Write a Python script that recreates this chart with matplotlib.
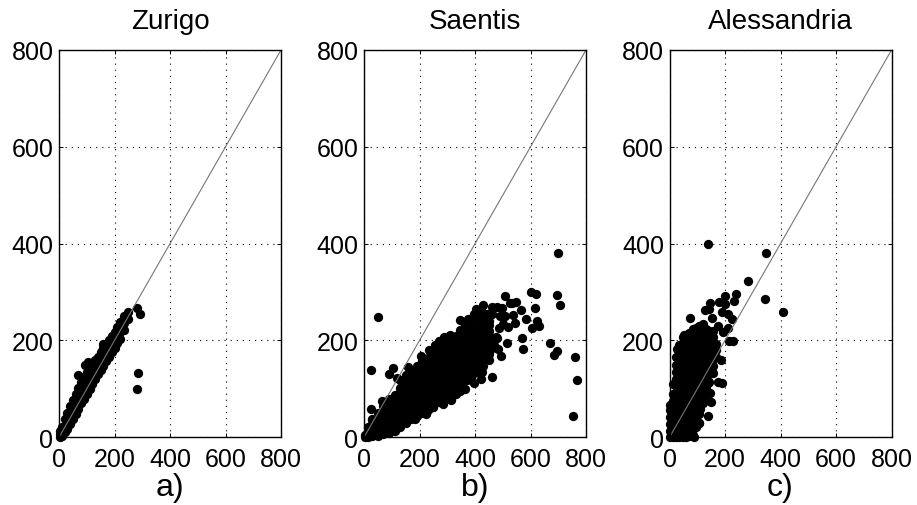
import matplotlib
matplotlib.use("Agg")
import matplotlib.pyplot as plt

plt.rcParams['font.family'] = ['Liberation Sans', 'DejaVu Sans']

titles = ['Zurigo', 'Saentis', 'Alessandria']
panel_labels = ['a)', 'b)', 'c)']
ticks = [0, 200, 400, 600, 800]

# cloud points, grouped as x value -> y values
zurigo_cols_x = [3, 10, 20, 30, 40, 50, 60, 70, 80, 90, 100, 110, 120, 130, 140, 150, 160, 170, 180, 190, 200, 210, 220, 235]
zurigo_cols_y = [[0, 6, 12], [2, 12, 22], [10, 24, 38], [18, 34, 50], [28, 44, 64], [38, 54, 78], [48, 66, 90], [58, 76, 102],
                 [70, 88, 114], [80, 98, 124], [90, 108, 134], [100, 120, 144], [110, 130, 152], [120, 140, 160],
                 [130, 148, 166], [140, 156, 176], [148, 164, 184], [158, 172, 192], [166, 182, 200], [176, 192, 210],
                 [184, 200, 218], [194, 208, 228], [204, 218, 238], [222, 236, 250]]
zurigo_extra_x = [69, 95, 105, 158, 248, 280, 292, 284, 282, 250]
zurigo_extra_y = [128, 150, 155, 192, 258, 268, 254, 133, 100, 245]

saentis_cols_x = [3, 15, 30, 50, 70, 90, 110, 130, 150, 170, 190, 210, 230, 250, 270, 290, 310, 330, 350, 370, 390, 410, 430, 450]
saentis_cols_y = [[0, 5], [1, 10, 22], [2, 12, 24, 36], [3, 14, 26, 38, 50], [6, 18, 30, 42, 55, 64], [9, 22, 34, 46, 58, 70, 80],
                  [14, 28, 40, 52, 64, 76, 88], [22, 34, 46, 58, 70, 82, 94, 102], [30, 42, 54, 66, 78, 90, 102, 114],
                  [38, 50, 62, 74, 86, 98, 110, 122, 130], [44, 54, 66, 78, 90, 102, 114, 126, 138, 148],
                  [50, 62, 74, 86, 98, 110, 122, 134, 146, 158], [56, 68, 80, 92, 104, 116, 128, 140, 152, 164],
                  [62, 74, 86, 98, 110, 122, 134, 146, 158, 170, 180], [72, 84, 96, 108, 120, 132, 144, 156, 168, 180, 190],
                  [80, 92, 104, 116, 128, 140, 152, 164, 176, 188, 200], [88, 100, 112, 124, 136, 148, 160, 172, 184, 196, 206],
                  [104, 116, 128, 140, 152, 164, 176, 188, 200, 210], [112, 124, 136, 148, 160, 172, 184, 196, 208, 222],
                  [118, 130, 142, 154, 166, 178, 190, 202, 214, 232], [128, 140, 152, 164, 176, 188, 200, 212, 224, 240],
                  [135, 148, 160, 172, 184, 196, 208, 220, 232, 250], [148, 160, 172, 184, 196, 208, 220, 232, 244, 255],
                  [160, 172, 184, 196, 208, 220, 232, 240]]
saentis_extra_x = [24, 49, 91, 106, 157, 118, 64, 24, 28, 698, 600, 619, 697, 708, 509, 546, 526, 618, 565, 583, 430, 404, 347, 463,
                   478, 497, 622, 629, 607, 568, 574, 517, 494, 463, 420, 385, 672, 694, 685, 760, 769, 754, 330, 312, 304, 346,
                   508, 538, 520, 545, 502, 474, 484, 448, 430, 535, 490, 365, 320,
                   185, 225, 250, 285, 315, 345, 365, 395, 425, 130, 150, 175, 205, 235, 255, 270, 290, 310, 345, 375, 395, 420,
                   445, 460, 455, 470, 480, 485]
saentis_extra_y = [139, 249, 130, 144, 146, 122, 76, 58, 38, 381, 300, 296, 293, 273, 291, 280, 277, 267, 263, 245, 274, 265, 243, 270,
                   269, 267, 240, 230, 225, 205, 183, 194, 168, 125, 120, 120, 194, 178, 171, 166, 119, 43, 89, 78, 93, 110,
                   250, 252, 227, 237, 234, 207, 182, 165, 161, 278, 250, 235, 207,
                   38, 48, 62, 68, 80, 95, 100, 112, 135, 118, 128, 140, 168, 180, 190, 198, 208, 212, 222, 245, 255, 262,
                   255, 255, 180, 190, 205, 225]

alessandria_cols_x = [3, 12, 24, 36, 48, 60, 72, 84, 96, 108, 120, 132, 144, 156, 168]
alessandria_cols_y = [[0, 14, 28, 42, 56, 66], [0, 15, 30, 45, 60, 75, 90, 110], [0, 15, 30, 45, 60, 75, 90, 105, 120, 135, 150, 165],
                      [0, 15, 30, 45, 60, 75, 90, 105, 120, 135, 150, 165, 180, 190], [0, 15, 30, 45, 60, 75, 90, 105, 120, 135, 150, 165, 180, 195, 208],
                      [0, 15, 30, 45, 60, 75, 90, 105, 120, 135, 150, 165, 180, 195, 212], [2, 16, 30, 45, 60, 75, 90, 105, 120, 135, 150, 165, 180, 195, 215],
                      [5, 18, 32, 46, 60, 75, 90, 105, 120, 135, 150, 165, 180, 195, 210, 224], [22, 36, 50, 65, 80, 95, 110, 125, 140, 155, 170, 185, 200, 215, 226],
                      [30, 48, 64, 80, 95, 110, 125, 140, 155, 170, 185, 200, 215, 230], [70, 85, 100, 115, 130, 145, 160, 175, 190, 205, 220, 235],
                      [88, 105, 120, 135, 150, 165, 180, 195, 210, 224], [115, 130, 145, 160, 175, 190, 205, 220], [132, 147, 162, 177, 192, 207, 220],
                      [165, 180, 192]]
alessandria_extra_x = [138, 349, 283, 345, 408, 239, 232, 200, 179, 200, 146, 129, 144, 188, 212, 224, 75, 152, 176, 212, 194, 27,
                       215, 229, 184, 173, 188, 140, 146, 149, 111, 138, 108, 87, 51, 130, 120]
alessandria_extra_y = [400, 380, 323, 285, 259, 296, 281, 291, 280, 275, 277, 263, 266, 258, 254, 244, 247, 247, 230, 225, 218, 183,
                       198, 199, 159, 115, 113, 113, 91, 72, 58, 45, 30, 1, 211, 100, 75]

cols_x = [zurigo_cols_x, saentis_cols_x, alessandria_cols_x]
cols_y = [zurigo_cols_y, saentis_cols_y, alessandria_cols_y]
extra_x = [zurigo_extra_x, saentis_extra_x, alessandria_extra_x]
extra_y = [zurigo_extra_y, saentis_extra_y, alessandria_extra_y]

W, H = 917, 506
fig = plt.figure(figsize=(W / 100, H / 100), dpi=100)
lefts = [59, 364, 669.5]
for i, left in enumerate(lefts):
    ax = fig.add_axes([left / W, 1 - 438.3 / H, 222 / W, 387.3 / H])
    xs = [x for x, col in zip(cols_x[i], cols_y[i]) for _ in col] + extra_x[i]
    ys = [y for col in cols_y[i] for y in col] + extra_y[i]
    ax.plot(xs, ys, 'o', color='black', ms=6.7, mew=0, clip_on=False, zorder=3)
    ax.plot([0, 800], [0, 800], color='#777777', lw=0.8, zorder=4)
    ax.set_xlim(0, 800)
    ax.set_ylim(0, 800)
    ax.set_xticks(ticks)
    ax.set_yticks(ticks)
    ax.grid(True, color='black', linestyle=(0, (1, 4.5)), linewidth=0.8)
    ax.set_axisbelow(True)
    ax.tick_params(direction='in', length=3, width=0.7, top=True, right=True, labelsize=18, colors='black')
    ax.tick_params(axis='x', pad=6.8)
    ax.tick_params(axis='y', pad=4)
    for s in ax.spines.values():
        s.set_linewidth(1.0)
        s.set_zorder(5)
    ax.set_title(titles[i], fontsize=20, pad=15.5)
    ax.text(0.5, -0.128, panel_labels[i], transform=ax.transAxes, fontsize=23, ha='center', va='center')

fig.savefig('out.png', dpi=100)
